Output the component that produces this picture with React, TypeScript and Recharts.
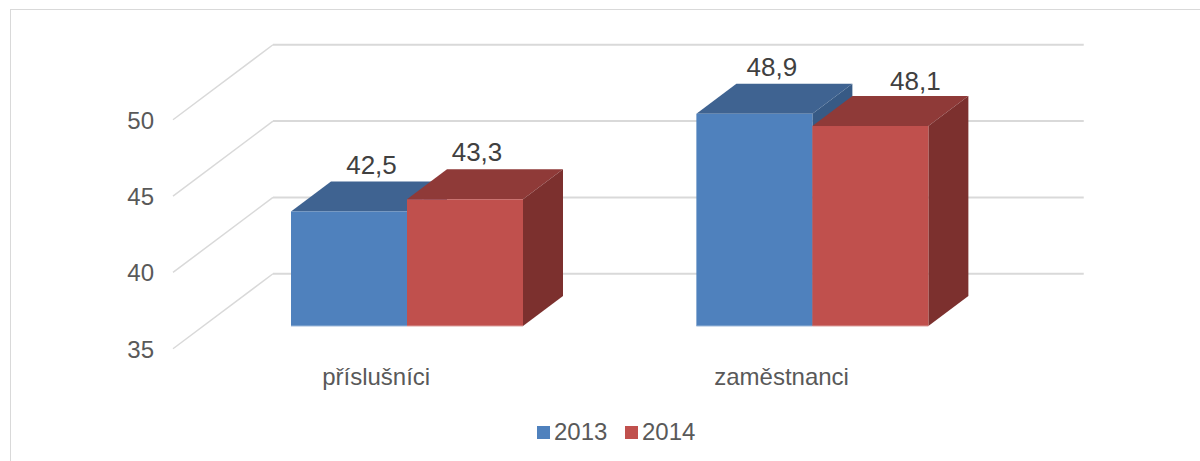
import { Bar, BarChart, CartesianGrid, LabelList, Legend, XAxis, YAxis } from "recharts"

const categories = ["příslušníci", "zaměstnanci"]
const values2013 = [42.5, 48.9]
const values2014 = [43.3, 48.1]
const yTicks = [35, 40, 45, 50]

const data = categories.map((name, i) => ({ name, y2013: values2013[i], y2014: values2014[i] }))

const FONT = "'Liberation Sans', Arial, sans-serif"
const GRID = "#d9d9d9"
const DEPTH_X = 40
const DEPTH_Y = 30

// the labels were moved by hand in the original, so each one has its own nudge
const nudges2013 = [[22.5, -37.5], [17.5, -38]]
const nudges2014 = [[12, -38.5], [45, -36]]

function box3d(front: string, top: string, side: string, edge: string) {
  return (props: any) => {
    const { x, y, width: w, height: h } = props
    return (
      <g>
        <polygon points={`${x},${y} ${x + DEPTH_X},${y - DEPTH_Y} ${x + w + DEPTH_X},${y - DEPTH_Y} ${x + w},${y}`} fill={top} />
        <polygon points={`${x + w},${y} ${x + w + DEPTH_X},${y - DEPTH_Y} ${x + w + DEPTH_X},${y + h - DEPTH_Y} ${x + w},${y + h}`} fill={side} />
        <rect x={x} y={y} width={w} height={h} fill={front} />
        <line x1={x} y1={y + h} x2={x + w} y2={y + h} stroke={edge} strokeWidth={1} />
      </g>
    )
  }
}

function gridLine(props: any) {
  const { x1, x2, y1, index } = props
  const wallY = y1 - 52.25
  // wall line plus the diagonal running forward along the side wall
  return (
    <g key={index} fill="none" stroke={GRID}>
      <line x1={x1 - 31} y1={y1 + 22.75} x2={x1 + 69} y2={wallY} strokeWidth={1.5} />
      <line x1={x1 + 69} y1={wallY} x2={x2 + 69} y2={wallY} strokeWidth={2} />
    </g>
  )
}

function valueLabel(nudges: number[][]) {
  return (props: any) => {
    const { x, y, width, value, index } = props
    return (
      <text x={x + width / 2 + nudges[index][0]} y={y + nudges[index][1]} textAnchor="middle" fontFamily={FONT} fontSize={26} fill="#404040">
        {String(value).replace(".", ",")}
      </text>
    )
  }
}

function YTick(props: any) {
  const { y, payload } = props
  return (
    <text x={154} y={y + 31.6} textAnchor="end" fontFamily={FONT} fontSize={24} fill="#595959">
      {payload.value}
    </text>
  )
}

function XTick(props: any) {
  const { x, payload } = props
  return (
    <text x={x - 30.5} y={385} textAnchor="middle" fontFamily={FONT} fontSize={24} fill="#595959">
      {payload.value}
    </text>
  )
}

function LegendRow(props: any) {
  return (
    <div style={{ display: "flex", fontFamily: FONT, fontSize: 24, color: "#595959", lineHeight: "28px" }}>
      {(props.payload || []).map((item: any) => (
        <div key={item.value} style={{ display: "flex", alignItems: "center", width: 88 }}>
          <span style={{ width: 13, height: 13, background: item.color, marginRight: 4 }} />
          {item.value}
        </div>
      ))}
    </div>
  )
}

export default function App() {
  return (
    <div style={{ position: "absolute", left: 0, top: 0, width: 1200, height: 461, overflow: "hidden", background: "#fff" }}>
      <div style={{ position: "absolute", left: 10, top: 9, width: 1300, height: 600, borderTop: `1.5px solid ${GRID}`, borderLeft: `1.5px solid ${GRID}` }} />
      <div style={{ position: "absolute", left: 0, top: 0 }}>
        <BarChart
          width={1200}
          height={461}
          data={data}
          barSize={116}
          barGap={0}
          margin={{ top: 97, right: 185.25, bottom: 105, left: 144 }}
        >
          <CartesianGrid vertical={false} horizontal={gridLine} />
          <XAxis dataKey="name" height={30} axisLine={false} tickLine={false} tick={XTick} />
          <YAxis width={60} domain={[35, 50]} ticks={yTicks} axisLine={false} tickLine={false} tick={YTick} />
          <Legend
            verticalAlign="middle"
            content={LegendRow}
            wrapperStyle={{ left: 537, top: 418, width: 200, bottom: "auto", right: "auto", margin: 0 }}
          />
          <Bar dataKey="y2013" name="2013" fill="#4F81BD" isAnimationActive={false} shape={box3d("#4F81BD", "#3F6391", "#375A85", "#9db8d9")}>
            <LabelList dataKey="y2013" content={valueLabel(nudges2013)} />
          </Bar>
          <Bar dataKey="y2014" name="2014" fill="#C0504D" isAnimationActive={false} shape={box3d("#C0504D", "#8F3A38", "#7C302E", "#dc9f9d")}>
            <LabelList dataKey="y2014" content={valueLabel(nudges2014)} />
          </Bar>
        </BarChart>
      </div>
    </div>
  )
}
